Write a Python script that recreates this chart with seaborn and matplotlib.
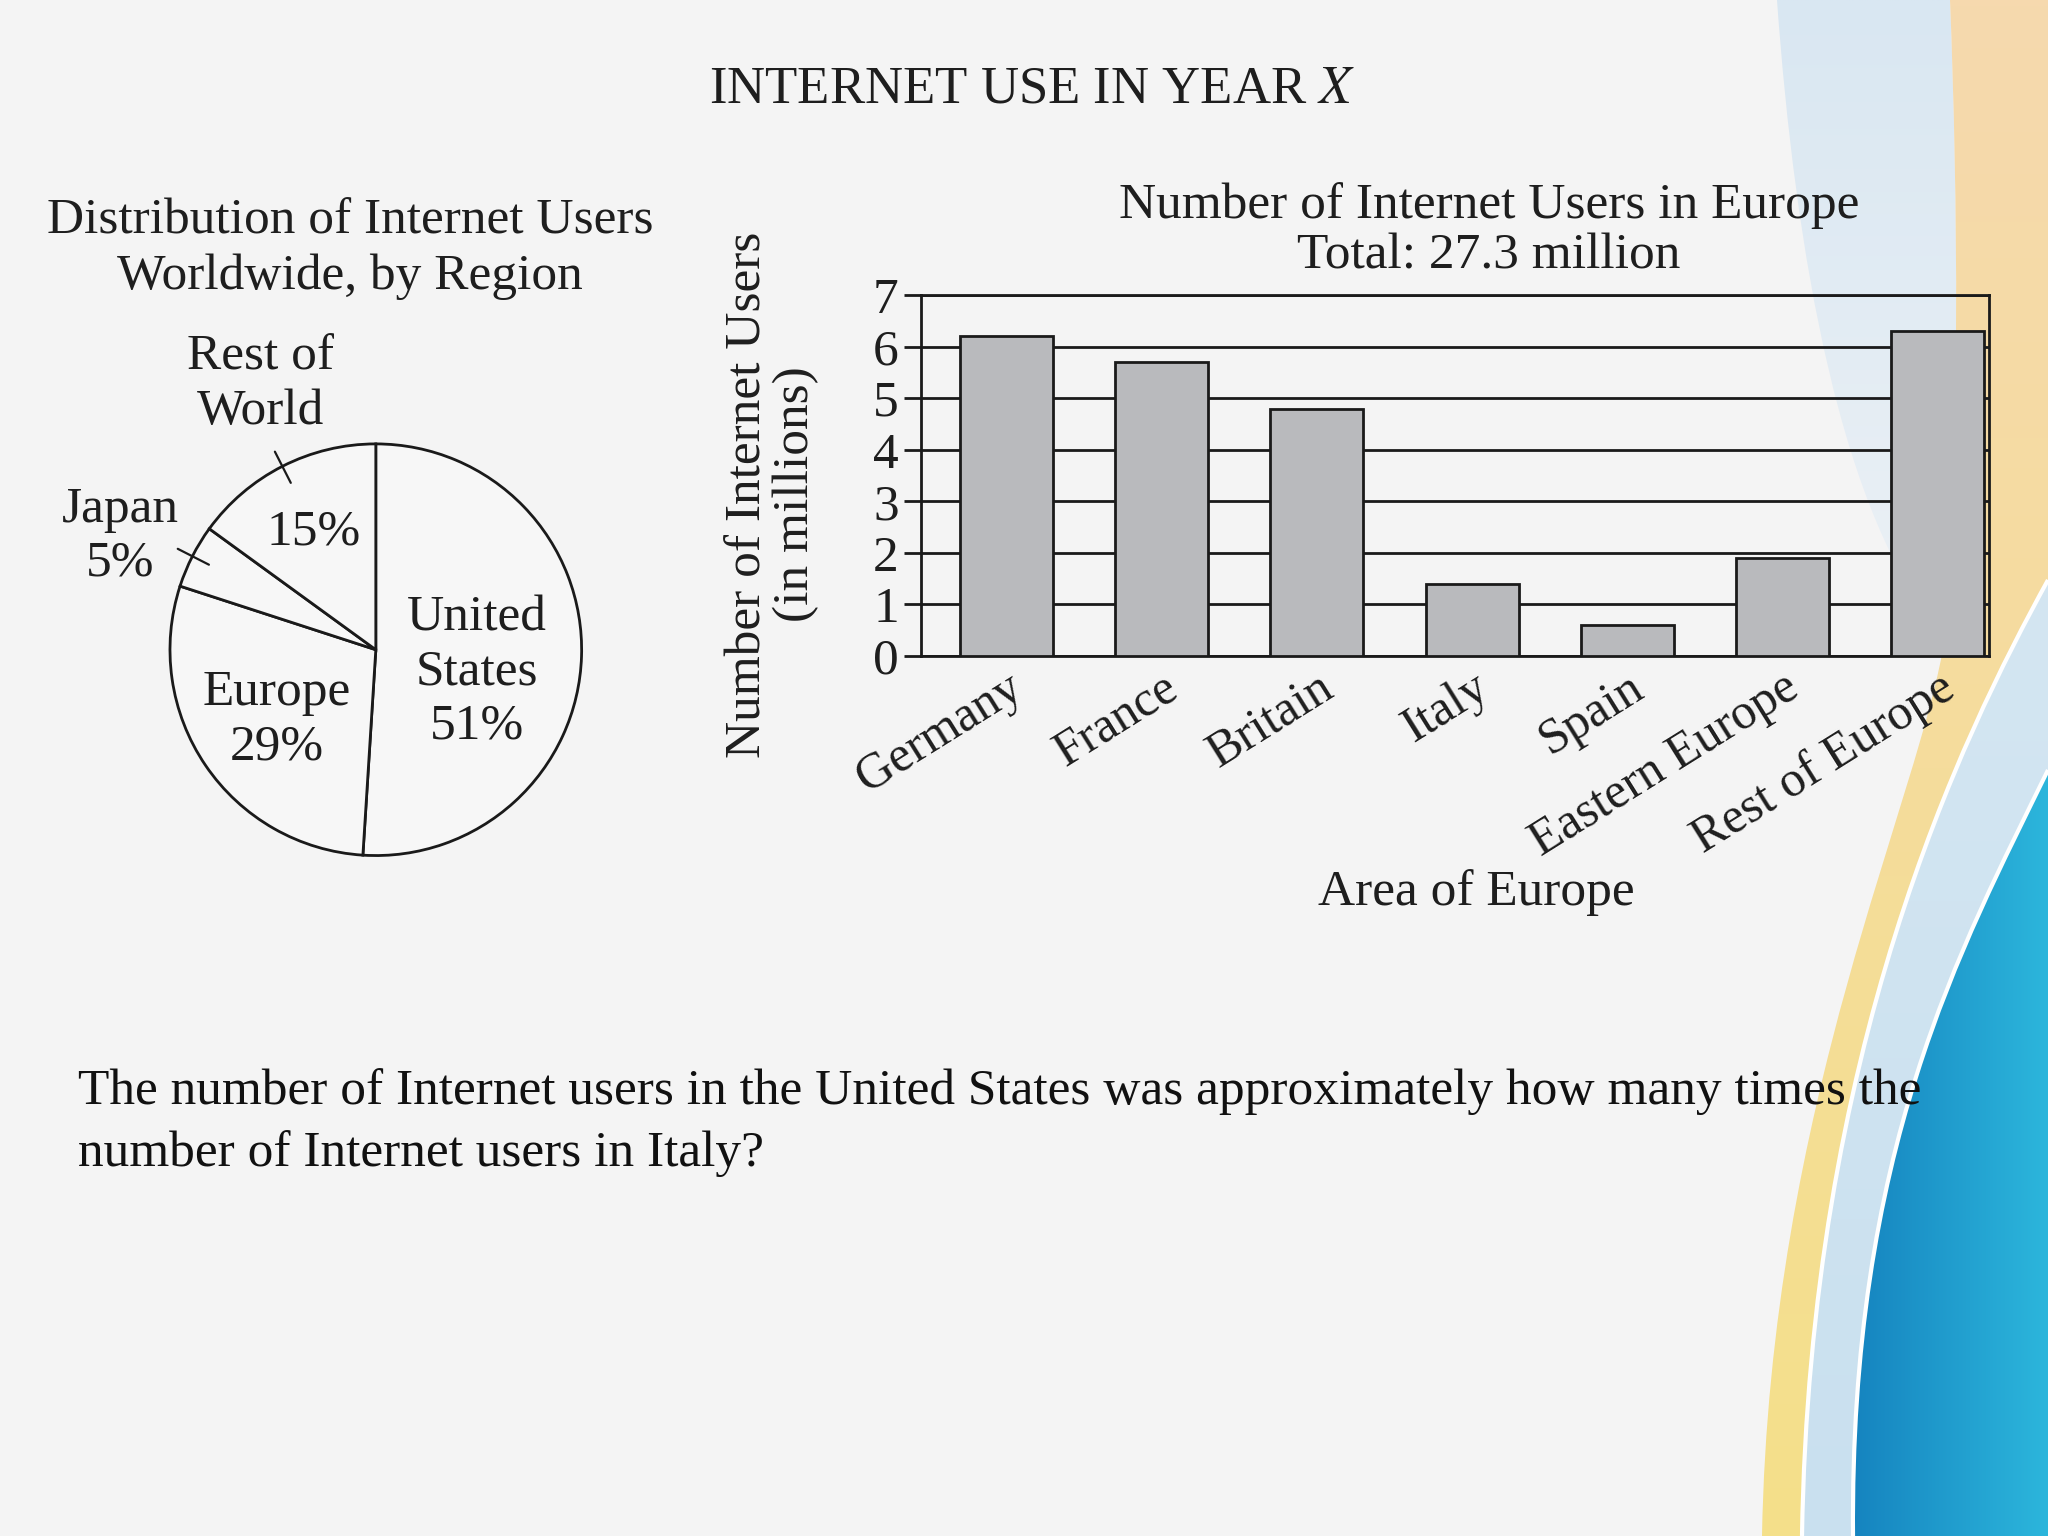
import numpy as np
import matplotlib
matplotlib.use("Agg")
import matplotlib.pyplot as plt
import seaborn as sns
from matplotlib.path import Path
from matplotlib.patches import PathPatch
from matplotlib.colors import LinearSegmentedColormap

# data
regions = ["United States", "Europe", "Japan", "Rest of World"]
region_share = [51, 29, 5, 15]

areas = ["Germany", "France", "Britain", "Italy", "Spain", "Eastern Europe", "Rest of Europe"]
users_millions = [6.2, 5.7, 4.8, 1.4, 0.6, 1.9, 6.3]
y_ticks = [0, 1, 2, 3, 4, 5, 6, 7]

sns.set_theme(style="white")
plt.rcParams["font.family"] = ["Liberation Serif", "DejaVu Serif"]
plt.rcParams["mathtext.fontset"] = "stix"
TXT = "#1e1e1e"

fig = plt.figure(figsize=(20.48, 15.36), dpi=100)
fig.patch.set_facecolor("#f4f4f4")

# slide background decoration (right hand swoosh)
bg = fig.add_axes([0, 0, 1, 1], zorder=-10)
bg.set_xlim(0, 2048)
bg.set_ylim(1536, 0)
bg.axis("off")


def grad_fill(ax, verts, codes, c1, c2, horizontal=False, box=None):
    patch = PathPatch(Path(verts, codes), facecolor="none", edgecolor="none")
    ax.add_patch(patch)
    cmap = LinearSegmentedColormap.from_list("g", [c1, c2])
    g = np.linspace(0, 1, 256)
    g = g.reshape(1, -1) if horizontal else g.reshape(-1, 1)
    x0, x1, y0, y1 = box
    im = ax.imshow(g, cmap=cmap, extent=[x0, x1, y1, y0], origin="upper",
                   aspect="auto", zorder=patch.get_zorder())
    im.set_clip_path(patch)


M, C, L, Z = Path.MOVETO, Path.CURVE4, Path.LINETO, Path.CLOSEPOLY

# faint light blue wash at top right
grad_fill(bg,
          [(1777, 0), (1795, 250), (1840, 520), (1945, 637),
           (1960, 450), (1958, 200), (1950, 0), (1777, 0)],
          [M, C, C, C, C, C, C, Z],
          "#d9e7f2", "#ecf1f5", box=(1770, 1980, 0, 640))

# light blue band
grad_fill(bg,
          [(2048, 580), (1960, 740), (1810, 1050), (1802, 1536),
           (2048, 1536), (2048, 580)],
          [M, C, C, C, L, Z],
          "#d4e6f2", "#c9e0ef", box=(1790, 2048, 580, 1536))

# peach / yellow band
grad_fill(bg,
          [(1950, 0), (1958, 200), (1960, 450), (1945, 637),
           (1920, 800), (1770, 1100), (1762, 1536),
           (1802, 1536), (1810, 1050), (1960, 740), (2048, 580),
           (2048, 0), (1950, 0)],
          [M, C, C, C, C, C, C, L, C, C, C, L, Z],
          "#f6d9ae", "#f4e08a", box=(1750, 2048, 0, 1536))

# deep blue
grad_fill(bg,
          [(2048, 770), (1960, 950), (1850, 1150), (1853, 1536),
           (2048, 1536), (2048, 770)],
          [M, C, C, C, L, Z],
          "#1583bf", "#2cb6dc", horizontal=True, box=(1850, 2048, 770, 1536))

for verts in ([(2048, 580), (1960, 740), (1810, 1050), (1802, 1536)],
              [(2048, 770), (1960, 950), (1850, 1150), (1853, 1536)]):
    bg.add_patch(PathPatch(Path(verts, [M, C, C, C]), facecolor="none",
                           edgecolor="white", linewidth=3))

# main title
fig.text(0.504, 0.942, "INTERNET USE IN YEAR $\\mathit{X}$", ha="center", va="center",
         fontsize=38, color=TXT)

# ---- pie chart ----
fig.text(0.171, 0.838, "Distribution of Internet Users\nWorldwide, by Region",
         ha="center", va="center", fontsize=37, color=TXT, linespacing=1.27)

ax_pie = fig.add_axes([0.083, 0.443, 0.201, 0.268])
wedges, _ = ax_pie.pie(region_share, startangle=90, counterclock=False,
                       wedgeprops=dict(facecolor="#f7f7f7", edgecolor="#1a1a1a",
                                       linewidth=2))
ax_pie.set_xlim(-1, 1)
ax_pie.set_ylim(-1, 1)
ax_pie.set_aspect("equal")

lab_kw = dict(ha="center", va="center", fontsize=37, color=TXT, linespacing=1.22)
ax_pie.text(0.49, -0.11, "United\nStates\n51%", **lab_kw)
ax_pie.text(-0.48, -0.34, "Europe\n29%", **lab_kw)
ax_pie.text(-0.30, 0.57, "15%", **lab_kw)
ax_pie.text(-0.56, 1.29, "Rest of\nWorld", clip_on=False, **lab_kw)
ax_pie.text(-1.24, 0.55, "Japan\n5%", clip_on=False, **lab_kw)

# small leader ticks on the Japan and Rest of World slices
for w in (wedges[2], wedges[3]):
    ang = np.deg2rad((w.theta1 + w.theta2) / 2)
    ax_pie.plot([0.91 * np.cos(ang), 1.08 * np.cos(ang)],
                [0.91 * np.sin(ang), 1.08 * np.sin(ang)],
                color="#1a1a1a", lw=1.6, clip_on=False)

# ---- bar chart ----
fig.text(0.727, 0.850, "Number of Internet Users in Europe\nTotal: 27.3 million",
         ha="center", va="center", fontsize=37, color=TXT, linespacing=1.12)

ax = fig.add_axes([0.4497, 0.5729, 0.5215, 0.2350])
ax.set_facecolor("none")
sns.barplot(x=areas, y=users_millions, color="#b9babd", saturation=1,
            edgecolor="#1a1a1a", linewidth=2, width=0.6, ax=ax, zorder=3)
ax.set_xlim(-0.55, 6.33)
ax.set_ylim(0, 7)
ax.set_yticks(y_ticks)
ax.set_axisbelow(True)
ax.yaxis.grid(True, color="#1a1a1a", linewidth=2)
ax.xaxis.grid(False)
for s in ax.spines.values():
    s.set_visible(True)
    s.set_color("#1a1a1a")
    s.set_linewidth(2)
ax.tick_params(axis="y", direction="out", length=12, width=2, color="#1a1a1a",
               labelsize=37, labelcolor=TXT, pad=4, left=True)
ax.tick_params(axis="x", length=0, labelsize=36, labelcolor=TXT, pad=6)
plt.setp(ax.get_xticklabels(), rotation=32, ha="right", rotation_mode="anchor")
ax.set_xlabel("")
ax.set_ylabel("")

fig.text(0.377, 0.678, "Number of Internet Users\n(in millions)", rotation=90,
         ha="center", va="center", fontsize=37, color=TXT, linespacing=1.05)
fig.text(0.721, 0.419, "Area of Europe", ha="center", va="center",
         fontsize=37, color=TXT)

# question text
fig.text(0.038, 0.281,
         "The number of Internet users in the United States was approximately how many times the",
         ha="left", va="baseline", fontsize=37, color="#111111")
fig.text(0.038, 0.241, "number of Internet users in Italy?",
         ha="left", va="baseline", fontsize=37, color="#111111")

fig.savefig("out.png", dpi=100, facecolor=fig.get_facecolor())
